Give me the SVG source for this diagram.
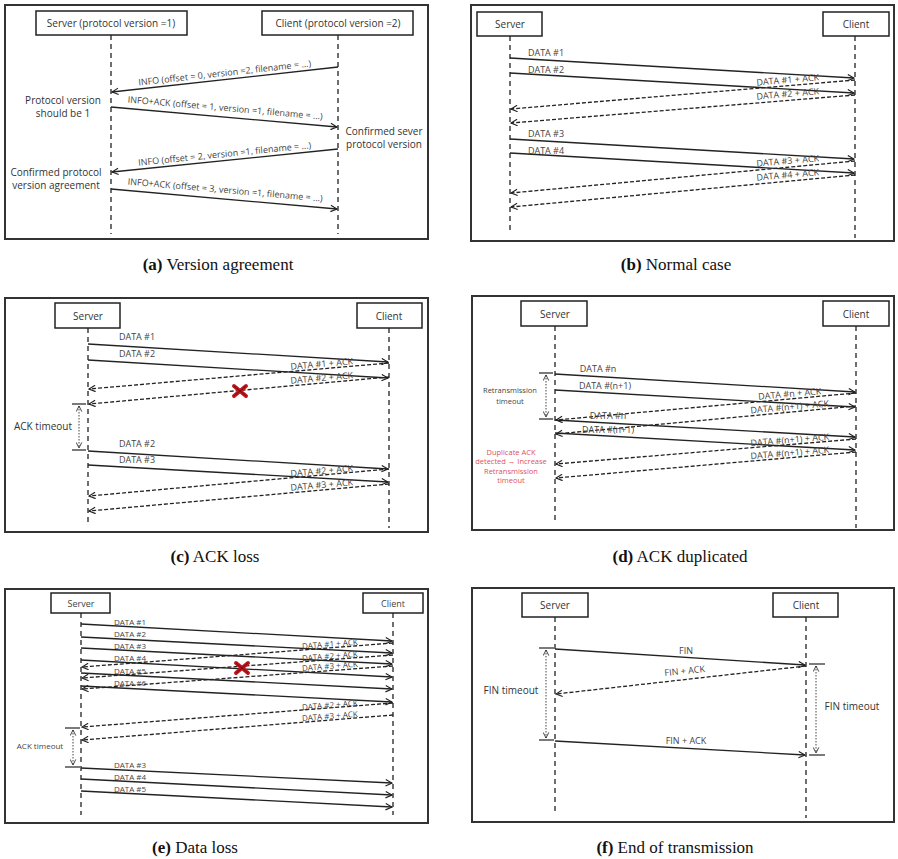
<svg xmlns="http://www.w3.org/2000/svg" width="898" height="859" viewBox="0 0 898 859">
<defs>
<marker id="ah" viewBox="0 0 10 10" refX="9" refY="5" markerWidth="8" markerHeight="8" markerUnits="userSpaceOnUse" orient="auto"><path d="M1,1 L9,5 L1,9" fill="none" stroke="#222" stroke-width="1.4"/></marker>
<marker id="as" viewBox="0 0 10 10" refX="9" refY="5" markerWidth="7" markerHeight="7" markerUnits="userSpaceOnUse" orient="auto-start-reverse"><path d="M1,1 L9,5 L1,9" fill="none" stroke="#222" stroke-width="1.2"/></marker>
<g id="redx"><path d="M-6,-5 L6,5 M-6,5 L6,-5" stroke="#c0161c" stroke-width="4" stroke-linecap="round"/><path d="M-6,-5 L6,5 M-6,5 L6,-5" stroke="#7a0a0e" stroke-width="1"/></g>
</defs>
<style>
.frame{fill:#fff;stroke:#333;stroke-width:2}
.box{fill:#fff;stroke:#222;stroke-width:1.5}
.life{stroke:#222;stroke-width:1.3;stroke-dasharray:5,4;fill:none}
.sol{stroke:#222;stroke-width:1.3;fill:none;marker-end:url(#ah)}
.dsh{stroke:#222;stroke-width:1.3;stroke-dasharray:4,2;fill:none;marker-end:url(#ah)}
.dot{stroke:#444;stroke-width:1;stroke-dasharray:1.5,1.5;fill:none;marker-start:url(#as);marker-end:url(#as)}
.tick{stroke:#222;stroke-width:1.2}
.t{font-family:"Open Sans","Liberation Sans",sans-serif;font-size:9px;fill:#444;text-anchor:middle}
.tl{font-family:"Open Sans","Liberation Sans",sans-serif;font-size:10px;fill:#333;text-anchor:middle}
.red{font-family:"Open Sans","Liberation Sans",sans-serif;font-size:7.5px;fill:#e0505a;text-anchor:middle}
.cap{font-family:"Liberation Serif",serif;font-size:17px;fill:#111;text-anchor:middle}
.b{font-weight:bold}
</style>

<g id="panel-a">
<rect class="frame" x="5" y="5" width="423" height="234"/>
<g id="a-server"><rect class="box" x="36" y="11" width="151" height="24"/><text class="tl" x="111" y="27">Server (protocol version =1)</text></g>
<g id="a-client"><rect class="box" x="262" y="11" width="151" height="24"/><text class="tl" x="338" y="27">Client (protocol version =2)</text></g>
<line class="life" x1="111" y1="35" x2="111" y2="234"/>
<line class="life" x1="338" y1="35" x2="338" y2="234"/>
<g id="a-conn">
<line class="sol" x1="338" y1="67" x2="112" y2="92"/>
<line class="sol" x1="111" y1="107" x2="337" y2="127"/>
<line class="sol" x1="338" y1="149" x2="112" y2="172"/>
<line class="sol" x1="111" y1="189" x2="337" y2="209"/>
</g>
<text class="t" transform="translate(225,76) rotate(-6.3)">INFO (offset = 0, version =2, filename = ...)</text>
<text class="t" transform="translate(225,111) rotate(5)">INFO+ACK (offset = 1, version =1, filename = ...)</text>
<text class="t" transform="translate(225,157) rotate(-5.8)">INFO (offset = 2, version =1, filename = ...)</text>
<text class="t" transform="translate(225,193) rotate(5)">INFO+ACK (offset = 3, version =1, filename = ...)</text>
<text class="tl" x="63" y="104">Protocol version</text>
<text class="tl" x="63" y="117">should be 1</text>
<text class="tl" x="384" y="135">Confirmed sever</text>
<text class="tl" x="384" y="148">protocol version</text>
<text class="tl" x="56" y="176">Confirmed protocol</text>
<text class="tl" x="56" y="189">version agreement</text>
<text class="cap" x="218" y="270"><tspan class="b">(a)</tspan>  Version  agreement</text>
</g>

<g id="panel-b">
<rect class="frame" x="471" y="5" width="423" height="236"/>
<g id="b-server"><rect class="box" x="477" y="12" width="65" height="24"/><text class="tl" x="510" y="28">Server</text></g>
<g id="b-client"><rect class="box" x="823" y="12" width="66" height="24"/><text class="tl" x="856" y="28">Client</text></g>
<line class="life" x1="510" y1="36" x2="510" y2="232"/>
<line class="life" x1="855" y1="36" x2="855" y2="238"/>
<g id="b-conn">
<line class="sol" x1="510" y1="58" x2="854" y2="78"/>
<line class="sol" x1="510" y1="73" x2="854" y2="93"/>
<line class="dsh" x1="855" y1="80" x2="511" y2="109"/>
<line class="dsh" x1="855" y1="95" x2="511" y2="123"/>
<line class="sol" x1="510" y1="139" x2="854" y2="159"/>
<line class="sol" x1="510" y1="153" x2="854" y2="173"/>
<line class="dsh" x1="855" y1="161" x2="511" y2="193"/>
<line class="dsh" x1="855" y1="175" x2="511" y2="207"/>
</g>
<text class="t" x="546" y="56">DATA #1</text>
<text class="t" x="546" y="73">DATA #2</text>
<text class="t" x="546" y="137">DATA #3</text>
<text class="t" x="546" y="154">DATA #4</text>
<text class="t" transform="translate(788,83) rotate(-4.8)">DATA #1 + ACK</text>
<text class="t" transform="translate(788,97) rotate(-4.8)">DATA #2 + ACK</text>
<text class="t" transform="translate(788,164) rotate(-4.8)">DATA #3 + ACK</text>
<text class="t" transform="translate(788,178) rotate(-4.8)">DATA #4 + ACK</text>
<text class="cap" x="676" y="270"><tspan class="b">(b)</tspan>  Normal  case</text>
</g>

<g id="panel-c">
<rect class="frame" x="5" y="298" width="423" height="234"/>
<g id="c-server"><rect class="box" x="55" y="303" width="65" height="25"/><text class="tl" x="88" y="320">Server</text></g>
<g id="c-client"><rect class="box" x="357" y="303" width="65" height="25"/><text class="tl" x="389" y="320">Client</text></g>
<line class="life" x1="88" y1="328" x2="88" y2="522"/>
<line class="life" x1="389" y1="328" x2="389" y2="528"/>
<g id="c-conn">
<line class="sol" x1="88" y1="344" x2="388" y2="362"/>
<line class="sol" x1="88" y1="360" x2="388" y2="378"/>
<line class="dsh" x1="389" y1="363" x2="89" y2="389"/>
<line class="dsh" x1="389" y1="377" x2="89" y2="404"/>
<line class="sol" x1="88" y1="451" x2="388" y2="469"/>
<line class="sol" x1="88" y1="465" x2="388" y2="482"/>
<line class="dsh" x1="389" y1="469" x2="89" y2="496"/>
<line class="dsh" x1="389" y1="484" x2="89" y2="511"/>
<line class="dot" x1="79" y1="406" x2="79" y2="448"/>
<line class="tick" x1="72" y1="404" x2="86" y2="404"/>
<line class="tick" x1="72" y1="450" x2="86" y2="450"/>
</g>
<use href="#redx" x="240" y="391"/>
<text class="t" x="137" y="340">DATA #1</text>
<text class="t" x="137" y="357">DATA #2</text>
<text class="t" x="137" y="447">DATA #2</text>
<text class="t" x="137" y="463">DATA #3</text>
<text class="t" transform="translate(322,367) rotate(-4.9)">DATA #1 + ACK</text>
<text class="t" transform="translate(322,381) rotate(-4.9)">DATA #2 + ACK</text>
<text class="t" transform="translate(322,474) rotate(-4.9)">DATA #2 + ACK</text>
<text class="t" transform="translate(322,488) rotate(-4.9)">DATA #3 + ACK</text>
<text class="tl" x="43" y="430">ACK timeout</text>
<text class="cap" x="215" y="562"><tspan class="b">(c)</tspan>  ACK  loss</text>
</g>

<g id="panel-d">
<rect class="frame" x="472" y="296" width="422" height="234"/>
<g id="d-server"><rect class="box" x="521" y="301" width="66" height="25"/><text class="tl" x="555" y="318">Server</text></g>
<g id="d-client"><rect class="box" x="823" y="301" width="66" height="25"/><text class="tl" x="856" y="318">Client</text></g>
<line class="life" x1="555" y1="326" x2="555" y2="522"/>
<line class="life" x1="856" y1="326" x2="856" y2="528"/>
<g id="d-conn">
<line class="sol" x1="555" y1="374" x2="855" y2="392"/>
<line class="sol" x1="555" y1="390" x2="855" y2="407"/>
<line class="dsh" x1="856" y1="393" x2="556" y2="420"/>
<line class="dsh" x1="856" y1="406" x2="556" y2="434"/>
<line class="sol" x1="555" y1="420" x2="855" y2="437"/>
<line class="sol" x1="555" y1="433" x2="855" y2="450"/>
<line class="dsh" x1="856" y1="439" x2="556" y2="464"/>
<line class="dsh" x1="856" y1="452" x2="556" y2="478"/>
<line class="dot" x1="546" y1="375" x2="546" y2="417"/>
<line class="tick" x1="539" y1="373" x2="553" y2="373"/>
<line class="tick" x1="539" y1="419" x2="553" y2="419"/>
</g>
<text class="t" x="598" y="372">DATA #n</text>
<text class="t" x="605" y="389">DATA #(n+1)</text>
<text class="t" x="608" y="419">DATA #n</text>
<text class="t" x="608" y="433">DATA #(n+1)</text>
<text class="t" transform="translate(790,397) rotate(-5)">DATA #n + ACK</text>
<text class="t" transform="translate(790,410) rotate(-5)">DATA #(n+1) + ACK</text>
<text class="t" transform="translate(790,443) rotate(-4.8)">DATA #(n+1) + ACK</text>
<text class="t" transform="translate(790,456) rotate(-4.8)">DATA #(n+1) + ACK</text>
<text class="t" style="font-size:7.5px" x="510" y="393">Retransmission</text>
<text class="t" style="font-size:7.5px" x="510" y="404">timeout</text>
<text class="red" x="511" y="455">Duplicate ACK</text>
<text class="red" x="511" y="464">detected → Increase</text>
<text class="red" x="511" y="474">Retransmission</text>
<text class="red" x="511" y="483">timeout</text>
<text class="cap" x="680" y="562"><tspan class="b">(d)</tspan>  ACK  duplicated</text>
</g>

<g id="panel-e">
<rect class="frame" x="5" y="589" width="423" height="234"/>
<g id="e-server"><rect class="box" x="51" y="593" width="59" height="20"/><text class="t" x="81" y="607">Server</text></g>
<g id="e-client"><rect class="box" x="363" y="593" width="60" height="20"/><text class="t" x="393" y="607">Client</text></g>
<line class="life" x1="81" y1="613" x2="81" y2="815"/>
<line class="life" x1="393" y1="613" x2="393" y2="815"/>
<g id="e-conn">
<line class="sol" x1="81" y1="624" x2="392" y2="641"/>
<line class="sol" x1="81" y1="637" x2="392" y2="653"/>
<line class="sol" x1="81" y1="648" x2="392" y2="664"/>
<line class="sol" x1="81" y1="660" x2="392" y2="677"/>
<line class="sol" x1="81" y1="673" x2="392" y2="689"/>
<line class="sol" x1="81" y1="686" x2="392" y2="702"/>
<line class="dsh" x1="393" y1="643" x2="82" y2="667"/>
<line class="dsh" x1="393" y1="655" x2="82" y2="678"/>
<line class="dsh" x1="393" y1="666" x2="82" y2="689"/>
<line class="dsh" x1="393" y1="703" x2="82" y2="727"/>
<line class="dsh" x1="393" y1="715" x2="82" y2="740"/>
<line class="sol" x1="81" y1="768" x2="392" y2="783"/>
<line class="sol" x1="81" y1="779" x2="392" y2="795"/>
<line class="sol" x1="81" y1="791" x2="392" y2="807"/>
<line class="dot" x1="73" y1="730" x2="73" y2="765"/>
<line class="tick" x1="65" y1="728" x2="80" y2="728"/>
<line class="tick" x1="65" y1="767" x2="80" y2="767"/>
</g>
<use href="#redx" x="242" y="668"/>
<text class="t" style="font-size:8px" x="130" y="625">DATA #1</text>
<text class="t" style="font-size:8px" x="130" y="637">DATA #2</text>
<text class="t" style="font-size:8px" x="130" y="649">DATA #3</text>
<text class="t" style="font-size:8px" x="130" y="661">DATA #4</text>
<text class="t" style="font-size:8px" x="130" y="674">DATA #5</text>
<text class="t" style="font-size:8px" x="130" y="686">DATA #6</text>
<text class="t" style="font-size:8px" transform="translate(330,647) rotate(-4.4)">DATA #1 + ACK</text>
<text class="t" style="font-size:8px" transform="translate(330,659) rotate(-4.4)">DATA #2 + ACK</text>
<text class="t" style="font-size:8px" transform="translate(330,669) rotate(-4.4)">DATA #3 + ACK</text>
<text class="t" style="font-size:8px" transform="translate(330,708) rotate(-4.4)">DATA #2 + ACK</text>
<text class="t" style="font-size:8px" transform="translate(330,719) rotate(-4.4)">DATA #3 + ACK</text>
<text class="t" style="font-size:8px" x="130" y="768">DATA #3</text>
<text class="t" style="font-size:8px" x="130" y="780">DATA #4</text>
<text class="t" style="font-size:8px" x="130" y="792">DATA #5</text>
<text class="t" style="font-size:8px" x="40" y="749">ACK timeout</text>
<text class="cap" x="195" y="853"><tspan class="b">(e)</tspan>  Data  loss</text>
</g>

<g id="panel-f">
<rect class="frame" x="472" y="588" width="422" height="234"/>
<g id="f-server"><rect class="box" x="522" y="593" width="66" height="24"/><text class="tl" x="555" y="609">Server</text></g>
<g id="f-client"><rect class="box" x="773" y="593" width="65" height="24"/><text class="tl" x="806" y="609">Client</text></g>
<line class="life" x1="555" y1="617" x2="555" y2="812"/>
<line class="life" x1="806" y1="617" x2="806" y2="818"/>
<g id="f-conn">
<line class="sol" x1="555" y1="649" x2="805" y2="665"/>
<line class="dsh" x1="806" y1="666" x2="556" y2="694"/>
<line class="sol" x1="555" y1="741" x2="805" y2="755"/>
<line class="dot" x1="546" y1="650" x2="546" y2="738"/>
<line class="tick" x1="539" y1="648" x2="554" y2="648"/>
<line class="tick" x1="539" y1="740" x2="554" y2="740"/>
<line class="dot" x1="816" y1="666" x2="816" y2="753"/>
<line class="tick" x1="809" y1="664" x2="825" y2="664"/>
<line class="tick" x1="809" y1="755" x2="825" y2="755"/>
</g>
<text class="t" x="686" y="654">FIN</text>
<text class="t" transform="translate(685,674) rotate(-6)">FIN + ACK</text>
<text class="t" x="686" y="744">FIN + ACK</text>
<text class="tl" x="511" y="694">FIN timeout</text>
<text class="tl" x="852" y="710">FIN timeout</text>
<text class="cap" x="675" y="853"><tspan class="b">(f)</tspan>  End  of  transmission</text>
</g>
</svg>
